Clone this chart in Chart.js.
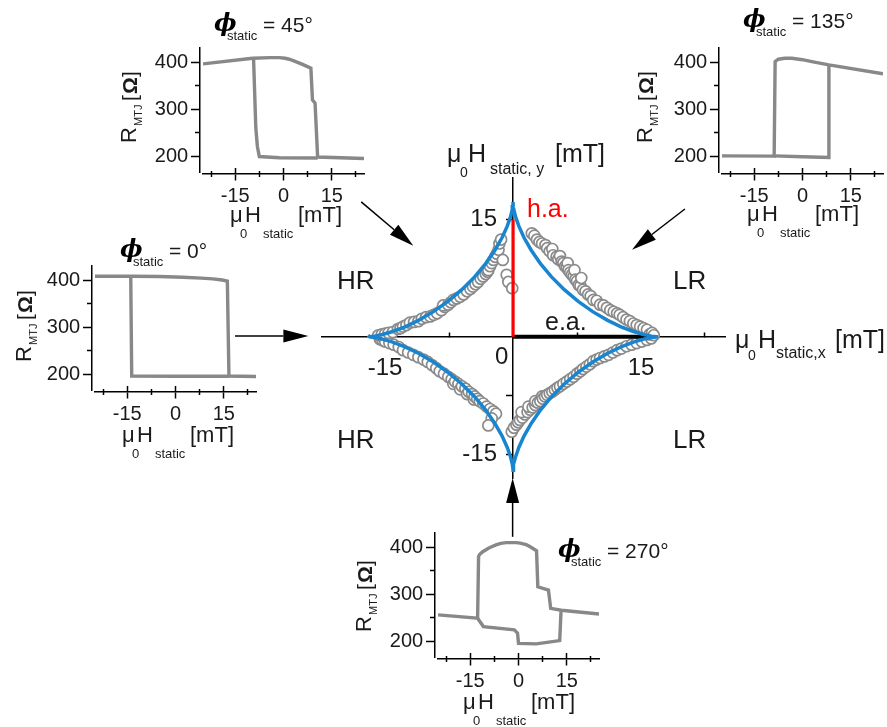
<!DOCTYPE html>
<html><head><meta charset="utf-8">
<script src="https://cdn.jsdelivr.net/npm/chart.js@4.4.1/dist/chart.umd.min.js"></script>
<style>
html,body{margin:0;padding:0;background:#fff;overflow:hidden;}
#wrap{position:relative;width:887px;height:727px;overflow:hidden;background:#fff;}
canvas{position:absolute;}
.t{position:absolute;white-space:nowrap;line-height:1;font-family:"Liberation Sans",Arial,Helvetica,sans-serif;color:#1a1a1a;}
.rot{position:absolute;width:0;height:0;transform:rotate(-90deg);transform-origin:0 0;}
</style></head>
<body><div id="wrap">
<canvas id="main" width="887" height="727" style="left:0;top:0"></canvas>
<canvas id="in45" width="250" height="190"></canvas>
<canvas id="in135" width="250" height="190"></canvas>
<canvas id="in0" width="250" height="190"></canvas>
<canvas id="in270" width="250" height="190"></canvas>
</div>
<script>
// ================= DATA =================
// Central plot: measured switching fields (mT), per quadrant [Hx, Hy]
const measuredUpperLeft = [[-15.8,0.2],[-15.4,0.3],[-15.0,0.4],[-14.6,0.5],[-14.1,0.6],[-13.5,1.0],[-13.2,1.1],[-12.9,1.3],[-12.5,1.5],[-12.1,1.8],[-11.6,1.9],[-11.1,2.0],[-10.7,2.3],[-10.2,2.5],[-9.7,2.6],[-9.3,2.8],[-8.9,3.0],[-8.4,3.4],[-8.0,3.8],[-8.2,4.0],[-7.6,4.1],[-7.3,4.4],[-7.0,4.7],[-6.6,4.9],[-6.2,5.1],[-5.8,5.4],[-5.4,5.8],[-5.0,6.1],[-4.7,6.4],[-4.4,6.7],[-4.1,7.0],[-3.8,7.4],[-3.5,7.7],[-3.2,8.0],[-3.0,8.3],[-2.9,8.5],[-2.7,9.0],[-2.5,9.4],[-2.3,9.8],[-2.1,10.2],[-1.9,10.6],[-1.7,11.1],[-1.6,11.9],[-1.4,12.4],[-1.2,9.8],[-0.75,7.9],[-0.55,7.0],[-0.1,6.2]];
const measuredUpperRight = [[2.2,13.2],[2.5,12.9],[2.8,12.4],[3.1,12.1],[3.4,11.9],[3.8,11.7],[4.0,11.3],[4.3,10.9],[4.6,11.2],[4.7,10.4],[5.1,10.2],[5.3,9.9],[5.5,10.3],[5.7,9.6],[5.9,9.4],[6.1,9.0],[6.3,8.9],[6.4,9.4],[6.5,8.5],[6.7,8.2],[6.9,7.9],[7.1,7.7],[7.2,8.5],[7.3,7.3],[7.5,7.1],[7.7,6.6],[7.9,6.5],[8.0,7.5],[8.2,6.0],[8.5,5.8],[8.8,5.4],[9.1,5.2],[9.4,4.7],[9.8,4.6],[10.2,4.1],[10.6,4.0],[11.0,3.7],[11.4,3.4],[11.8,3.2],[12.2,3.0],[12.5,2.8],[12.9,2.5],[13.3,2.2],[13.7,2.0],[14.1,1.7],[14.5,1.5],[14.9,1.3],[15.3,1.1],[15.7,0.9],[16.0,0.3],[16.3,0.5],[16.5,0.2]];
const measuredLowerRight = [[-0.15,-12.1],[0.1,-11.6],[0.4,-11.2],[0.6,-10.9],[0.8,-10.6],[1.1,-10.3],[1.4,-9.9],[1.0,-9.6],[1.7,-9.6],[2.0,-9.3],[1.8,-8.9],[2.3,-9.0],[2.6,-8.7],[2.6,-8.2],[2.9,-8.4],[3.2,-8.2],[3.4,-7.6],[3.5,-7.9],[3.75,-7.6],[4.0,-7.4],[4.3,-7.2],[4.6,-7.0],[4.9,-6.75],[5.2,-6.5],[5.5,-6.3],[5.9,-6.0],[6.3,-5.7],[6.7,-5.4],[7.1,-5.1],[7.5,-4.7],[7.9,-4.4],[8.2,-4.1],[8.6,-3.8],[9.0,-3.5],[9.4,-3.1],[9.8,-2.9],[10.2,-2.7],[10.7,-2.5],[11.2,-2.3],[11.7,-2.0],[12.2,-1.7],[12.7,-1.5],[13.3,-1.2],[13.9,-1.0],[14.5,-0.8],[15.1,-0.6],[15.7,-0.4],[16.2,-0.2]];
const measuredLowerLeft = [[-15.6,-0.3],[-15.3,-0.45],[-15.0,-0.6],[-14.5,-0.8],[-14.0,-1.0],[-13.4,-1.3],[-12.9,-1.7],[-12.3,-2.0],[-11.7,-2.3],[-11.1,-2.6],[-10.5,-2.9],[-10.0,-3.2],[-9.5,-3.6],[-9.0,-4.0],[-8.6,-4.4],[-8.1,-4.7],[-7.6,-5.1],[-7.2,-5.4],[-7.0,-6.0],[-6.8,-5.7],[-6.4,-6.0],[-6.2,-6.7],[-6.0,-6.3],[-5.6,-6.6],[-5.4,-7.3],[-5.2,-7.0],[-4.8,-7.3],[-4.6,-8.0],[-4.5,-7.6],[-4.2,-7.9],[-3.9,-8.2],[-3.5,-8.5],[-3.1,-8.9],[-2.7,-9.2],[-2.3,-9.5],[-2.0,-9.8],[-2.5,-10.4],[-2.9,-11.3]];

// Astroid (blue curve), counter-clockwise from +x cusp
const astroidX = [17,16.81,16.24,15.32,14.11,12.66,11.04,9.34,7.64,6.01,4.51,3.21,2.13,1.28,0.68,0.29,0.09,0.01,0,
  -0.01,-0.09,-0.29,-0.68,-1.28,-2.13,-3.21,-4.51,-6.01,-7.64,-9.34,-11.04,-12.66,-14.11,-15.32,-16.24,-16.81,-17,
  -16.81,-16.24,-15.32,-14.11,-12.66,-11.04,-9.34,-7.64,-6.01,-4.51,-3.21,-2.13,-1.28,-0.68,-0.29,-0.09,-0.01,0,
  0.01,0.09,0.29,0.68,1.28,2.13,3.21,4.51,6.01,7.64,9.34,11.04,12.66,14.11,15.32,16.24,16.81,17];
const astroidY = [0,0.01,0.09,0.29,0.68,1.28,2.13,3.21,4.51,6.01,7.64,9.34,11.04,12.66,14.11,15.32,16.24,16.81,17.2,
  16.81,16.24,15.32,14.11,12.66,11.04,9.34,7.64,6.01,4.51,3.21,2.13,1.28,0.68,0.29,0.09,0.01,0.2,
  -0.01,-0.09,-0.29,-0.68,-1.28,-2.13,-3.21,-4.51,-6.01,-7.64,-9.34,-11.04,-12.66,-14.11,-15.32,-16.24,-16.81,-17,
  -16.81,-16.24,-15.32,-14.11,-12.66,-11.04,-9.34,-7.64,-6.01,-4.51,-3.21,-2.13,-1.28,-0.68,-0.29,-0.09,-0.01,0];

// Hard axis (red) and easy axis (black) markers
const hardAxisX = [0, 0],   hardAxisY = [0, 15];
const easyAxisX = [0, 16.1], easyAxisY = [0, 0];

// Central axes ticks
const mainXTicks = [-15, -7.5, 7.5, 15, 22.5];
const mainXTickLabels = [-15, 15];
const mainYTicks = [-15, -7.5, 7.5, 15];
const mainYTickLabels = [-15, 15];

// Inset axes ticks
const insetXMajor = [-15, 0, 15];
const insetXMinor = [-22.5, -7.5, 7.5, 22.5];
const insetYMajor = [200, 300, 400];
const insetYMinor = [250, 350];

// Inset R-H loops: field (mT) and resistance (Ohm)
const phi0UpperH = [-25, -13.8, -5, 2.3, 8, 11.6, 14.5, 16.1, 16.6, 25];
const phi0UpperR = [409, 409, 408.5, 407, 405, 403.5, 401, 398.5, 196, 195];
const phi0LowerH = [-13.9, -13.6, 0, 16.6];
const phi0LowerR = [409, 196, 195.5, 195.5];

const phi45UpperH = [-25, -9.6, -4, -1.3, 0.5, 1.8, 3.8, 5.9, 8.5, 9.0, 9.8, 10.6, 25];
const phi45UpperR = [397, 409, 410.5, 410.5, 409, 407, 402, 396, 388, 320, 313, 198, 195];
const phi45LowerH = [-9.3, -8.6, -8.1, -7.5, -1.3, 10.6];
const phi45LowerR = [409, 260, 220, 199, 196.5, 196];

const phi135UpperH = [25, 8.2, 2.9, 0, -3.3, -5.5, -7.5, -8.5, -8.8, -25];
const phi135UpperR = [376, 395, 402, 406, 409, 409, 407, 402, 200, 200.5];
const phi135LowerH = [-8.8, 0, 8.2, 8.2];
const phi135LowerR = [200.5, 198.5, 197, 395];

const phi270UpperH = [25, 13.3, 10, 9.3, 6, 5.6, 3.5, 2.4, 0.5, -0.7, -3.8, -5.5, -7, -9.2, -11.1, -12.1, -12.4, -12.7, -25];
const phi270UpperR = [258, 266, 270, 309, 316, 393, 402, 406, 409.5, 410.5, 410.5, 409, 405.5, 399, 391, 385, 381, 249, 256];
const phi270LowerH = [-12.7, -10.9, -1.3, -0.3, 0, 5.5, 12.8, 13.2];
const phi270LowerR = [249, 231, 224, 217, 195, 194, 201, 263];

// Arrows from insets to the central plot (in central-plot field units)
const arrows = [
  {from: [-17.8, 17.2], to: [-11.7, 11.6]},
  {from: [20.15, 16.3], to: [13.95, 11.1]},
  {from: [-32.6, 0.1],  to: [-24.0, 0.1]},
  {from: [-0.05, -25.5], to: [-0.05, -18.0]}
];

// ================= RENDERING =================
const FONT = '"Liberation Sans", Arial, Helvetica, sans-serif';
const TXT = '#1a1a1a';
const wrap = document.getElementById('wrap');
const zip = (xs, ys) => xs.map((v, i) => ({x: v, y: ys[i]}));
const pairs = (arr) => arr.map(p => ({x: p[0], y: p[1]}));

function zeroFit(s) {
  if (s.isHorizontal()) s.height = 0; else s.width = 0;
  s.paddingLeft = s.paddingRight = s.paddingTop = s.paddingBottom = 0;
}
function setTicks(list) { return (s) => { s.ticks = list.map(v => ({value: v})); }; }

const arrowPlugin = {
  id: 'arrows',
  afterDraw(chart) {
    const {ctx} = chart; const sx = chart.scales.x, sy = chart.scales.y;
    ctx.save();
    ctx.strokeStyle = '#000'; ctx.fillStyle = '#000'; ctx.lineWidth = 1.5;
    for (const a of arrows) {
      const x1 = sx.getPixelForValue(a.from[0]), y1 = sy.getPixelForValue(a.from[1]);
      const x2 = sx.getPixelForValue(a.to[0]),   y2 = sy.getPixelForValue(a.to[1]);
      const ang = Math.atan2(y2 - y1, x2 - x1);
      const L = 25, W = 6.5;
      const bx = x2 - L * Math.cos(ang), by = y2 - L * Math.sin(ang);
      ctx.beginPath(); ctx.moveTo(x1, y1); ctx.lineTo(bx, by); ctx.stroke();
      ctx.beginPath(); ctx.moveTo(x2, y2);
      ctx.lineTo(bx + W * Math.sin(ang), by - W * Math.cos(ang));
      ctx.lineTo(bx - W * Math.sin(ang), by + W * Math.cos(ang));
      ctx.closePath(); ctx.fill();
    }
    ctx.restore();
  }
};

const circleStyle = {showLine: false, pointRadius: 5.5, pointBorderWidth: 1.7,
  pointBorderColor: '#8a8a8a', pointBackgroundColor: '#ffffff', order: 3};

// label-only axis: tick labels right-aligned at a given field value
const yLabelAxis = (min, max, atX, list, size) => ({type: 'linear', axis: 'y', min, max, position: {x: atX},
  grid: {display: false, drawOnChartArea: false}, border: {display: false},
  ticks: {autoSkip: false, color: TXT, font: {family: FONT, size}, callback: v => String(v)},
  afterBuildTicks: setTicks(list), afterFit: zeroFit});

new Chart(document.getElementById('main'), {
  type: 'scatter',
  data: {datasets: [
    {label: 'astroid', data: zip(astroidX, astroidY), showLine: true, borderColor: '#1985cf',
     borderWidth: 3.5, pointRadius: 0, tension: 0, order: 0},
    {label: 'h.a.', data: zip(hardAxisX, hardAxisY), showLine: true, borderColor: '#ff0000',
     borderWidth: 3.2, pointRadius: 0, order: 1},
    {label: 'e.a.', data: zip(easyAxisX, easyAxisY), showLine: true, borderColor: '#000000',
     borderWidth: 4, pointRadius: 0, order: 2},
    Object.assign({label: 'meas UL', data: pairs(measuredUpperLeft)}, circleStyle),
    Object.assign({label: 'meas UR', data: pairs(measuredUpperRight)}, circleStyle),
    Object.assign({label: 'meas LR', data: pairs(measuredLowerRight)}, circleStyle),
    Object.assign({label: 'meas LL', data: pairs(measuredLowerLeft)}, circleStyle)
  ]},
  options: {
    responsive: false, animation: false, events: [],
    layout: {padding: {left: 322, right: 162, top: 178, bottom: 249}},
    plugins: {legend: {display: false}, tooltip: {enabled: false}},
    scales: {
      x: {type: 'linear', axis: 'x', min: -22.4, max: 24.85, position: {y: 0},
        grid: {drawOnChartArea: false, drawTicks: true, tickLength: -5, tickWidth: 1.5, tickColor: '#000'},
        border: {display: true, color: '#000', width: 1.5},
        ticks: {autoSkip: false, maxRotation: 0, padding: 22, color: TXT, font: {family: FONT, size: 24},
          callback: v => mainXTickLabels.includes(v) ? String(v) : ''},
        afterBuildTicks: setTicks(mainXTicks), afterFit: zeroFit},
      y: {type: 'linear', axis: 'y', min: -18, max: 20.25, position: {x: 0},
        grid: {drawOnChartArea: false, drawTicks: true, tickLength: 6, tickWidth: 1.5, tickColor: '#000'},
        border: {display: true, color: '#000', width: 1.5},
        ticks: {display: false},
        afterBuildTicks: setTicks(mainYTicks), afterFit: zeroFit},
      yLab: yLabelAxis(-18, 20.25, -1.88, mainYTickLabels, 24)
    }
  },
  plugins: [arrowPlugin]
});

// ---- insets ----
const INSET = {xMin: -25, xMax: 25, yMin: 166, yMax: 431, yAxisAt: -25.9, yLabelAt: -29.6, xAxisAt: 161.7, w: 161, h: 124};
function insetChart(id, L, T, upper, lower) {
  const cv = document.getElementById(id);
  const padL = 70, padT = 15;
  cv.style.left = (L - padL) + 'px'; cv.style.top = (T - padT) + 'px';
  const lineDs = (d) => ({data: d, showLine: true, borderColor: '#888888', borderWidth: 3.4,
    pointRadius: 0, tension: 0, borderJoinStyle: 'miter'});
  const xBase = (list, len, labels) => ({type: 'linear', axis: 'x', min: INSET.xMin, max: INSET.xMax,
    position: {y: INSET.xAxisAt},
    grid: {drawOnChartArea: false, drawTicks: true, tickLength: len, tickWidth: 1.5, tickColor: '#000'},
    border: {display: labels, color: '#000', width: 1.5},
    ticks: {display: labels, autoSkip: false, maxRotation: 0, padding: 4.5, color: TXT,
      font: {family: FONT, size: 20}, callback: v => String(v)},
    afterBuildTicks: setTicks(list), afterFit: zeroFit});
  const yBase = (list, len, border) => ({type: 'linear', axis: 'y', min: INSET.yMin, max: INSET.yMax,
    position: {x: INSET.yAxisAt},
    grid: {drawOnChartArea: false, drawTicks: true, tickLength: len, tickWidth: 1.5, tickColor: '#000'},
    border: {display: border, color: '#000', width: 1.5},
    ticks: {display: false},
    afterBuildTicks: setTicks(list), afterFit: zeroFit});
  new Chart(cv, {
    type: 'scatter',
    data: {datasets: [lineDs(upper), lineDs(lower)]},
    options: {
      responsive: false, animation: false, events: [],
      layout: {padding: {left: padL, top: padT, right: cv.width - padL - INSET.w, bottom: cv.height - padT - INSET.h}},
      plugins: {legend: {display: false}, tooltip: {enabled: false}},
      scales: {
        x: xBase(insetXMajor, 6, true),
        xUp: xBase(insetXMajor, -6, false),
        xMin: xBase(insetXMinor, 3, false),
        xMinUp: xBase(insetXMinor, -3, false),
        y: yBase(insetYMajor, 8, true),
        yMin: yBase(insetYMinor, 5, false),
        yLab: yLabelAxis(INSET.yMin, INSET.yMax, INSET.yLabelAt, insetYMajor, 20)
      }
    }
  });
}
insetChart('in45', 203, 48, zip(phi45UpperH, phi45UpperR), zip(phi45LowerH, phi45LowerR));
insetChart('in135', 722, 48, zip(phi135UpperH, phi135UpperR), zip(phi135LowerH, phi135LowerR));
insetChart('in0', 95, 266, zip(phi0UpperH, phi0UpperR), zip(phi0LowerH, phi0LowerR));
insetChart('in270', 438, 533, zip(phi270UpperH, phi270UpperR), zip(phi270LowerH, phi270LowerR));

// ---- text ----
function label(x, base, text, size, o = {}) {
  const d = document.createElement('div');
  d.className = 't';
  d.textContent = text;
  d.style.left = x + 'px';
  d.style.top = (base - 0.8465 * size) + 'px';
  d.style.fontSize = size + 'px';
  if (o.color) d.style.color = o.color;
  if (o.css) Object.assign(d.style, o.css);
  (o.parent || wrap).appendChild(d);
  return d;
}
// central plot labels
label(337, 289, 'HR', 26); label(337, 448, 'HR', 26);
label(673, 289, 'LR', 26); label(673, 448, 'LR', 26);
label(527, 217, 'h.a.', 25, {color: '#ff0000'});
label(545, 330, 'e.a.', 25);
label(495, 364, '0', 24);
// y axis title
label(447, 162, 'μ', 25); label(460, 177, '0', 14); label(468, 162, 'H', 25);
label(490, 175, 'static, y', 16); label(555, 162, '[mT]', 25);
// x axis title
label(735, 348, 'μ', 25); label(748, 360, '0', 14); label(758, 348, 'H', 25);
label(776, 359, 'static,x', 16); label(835, 348, '[mT]', 25);

// inset labels
function insetText(cfg) {
  const p = cfg.phi;
  label(p.x, p.base, 'ϕ', 24, {css: {fontFamily: '"DejaVu Serif", serif', fontStyle: 'italic', fontWeight: 'bold', color: '#000'}});
  label(p.x + 13, p.base + 9, 'static', 13);
  label(p.x + 49, p.base + 1, '= ' + cfg.angle + '°', 21);
  const r = document.createElement('div');
  r.className = 'rot'; r.style.left = cfg.r.x + 'px'; r.style.top = cfg.r.y + 'px';
  wrap.appendChild(r);
  label(0, 0, 'R', 22, {parent: r});
  label(17, 5, 'MTJ', 11, {parent: r});
  label(42, 0, '[', 21, {parent: r});
  label(49, 0, 'Ω', 21, {parent: r, css: {fontWeight: 'bold'}});
  label(66, 0, ']', 21, {parent: r});
  const m = cfg.mu;
  label(m.x, m.base, 'μ', 22); label(m.x + 10, m.base + 15, '0', 13);
  label(m.x + 15, m.base, 'H', 22); label(m.x + 33, m.base + 15, 'static', 13);
  label(m.x + 68, m.base, '[mT]', 22);
}
insetText({angle: 45,  phi: {x: 214, base: 31},  r: {x: 137, y: 143}, mu: {x: 230, base: 223}});
insetText({angle: 135, phi: {x: 743, base: 27},  r: {x: 653, y: 143}, mu: {x: 747, base: 222}});
insetText({angle: 0,   phi: {x: 120, base: 257}, r: {x: 32,  y: 362}, mu: {x: 122, base: 443}});
insetText({angle: 270, phi: {x: 558, base: 557}, r: {x: 372, y: 632}, mu: {x: 463, base: 710}});
</script>
</body></html>
